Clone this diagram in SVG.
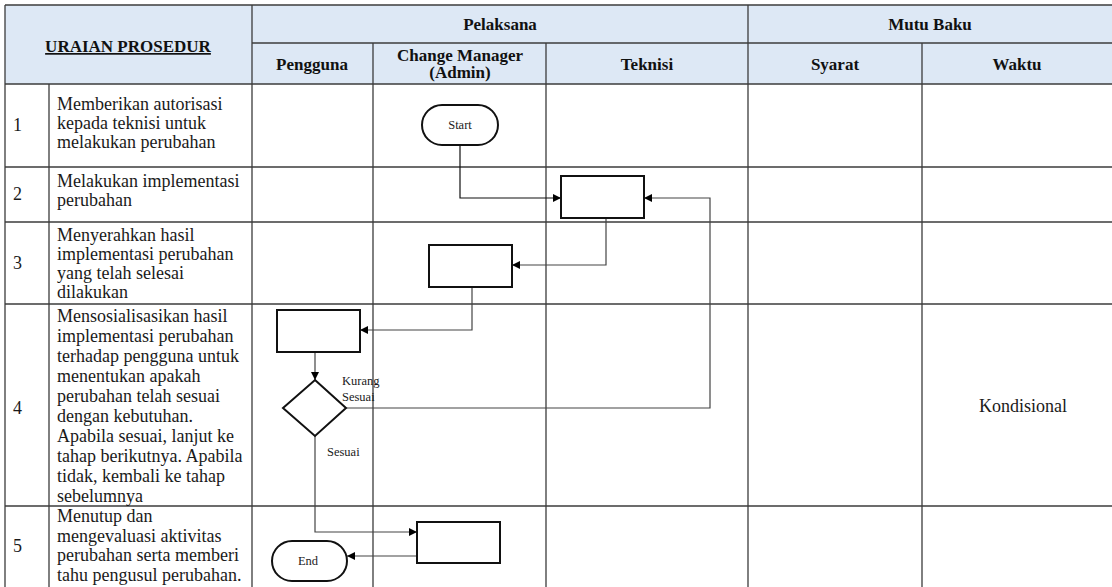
<svg xmlns="http://www.w3.org/2000/svg" width="1112" height="587" viewBox="0 0 1112 587">
  <style>
    .grid { stroke: #3c3c3c; stroke-width: 1.3; fill: none; }
    .hd { font-family: "Liberation Serif", "Times New Roman", serif; font-weight: bold; font-size: 17px; fill: #111; text-anchor: middle; }
    .tx { font-family: "Liberation Serif", "Times New Roman", serif; font-size: 18px; fill: #1a1a1a; }
    .sm { font-family: "Liberation Serif", "Times New Roman", serif; font-size: 12.5px; fill: #1a1a1a; }
    .box { fill: #fff; stroke: #111; stroke-width: 2; }
    .conn { fill: none; stroke: #444; stroke-width: 1.2; }
  </style>
  <defs>
    <marker id="arrow" viewBox="0 0 10 10" refX="10" refY="5" markerWidth="8" markerHeight="8" markerUnits="userSpaceOnUse" orient="auto">
      <path d="M0,0 L10,5 L0,10 Z" fill="#000"/>
    </marker>
  </defs>

  <rect width="1112" height="587" fill="#fff"/>

  <!-- header band -->
  <rect x="5" y="5" width="1107" height="79" fill="#dde8f5"/>

  <!-- table grid -->
  <g id="table">
    <path class="grid" d="M5,5 H1112 M252,43 H1112 M5,84 H1112 M5,167 H1112 M5,222 H1112 M5,304 H1112 M5,506 H1112"/>
    <path class="grid" d="M5,5 V587 M49,84 V587 M252,5 V587 M373,43 V587 M546,43 V587 M748,5 V587 M922,43 V587"/>
  </g>

  <!-- header labels -->
  <g id="header">
    <text class="hd" x="128" y="52" text-decoration="underline">URAIAN PROSEDUR</text>
    <text class="hd" x="500" y="30">Pelaksana</text>
    <text class="hd" x="930" y="30">Mutu Baku</text>
    <text class="hd" x="312" y="70">Pengguna</text>
    <text class="hd" x="460" y="61">Change Manager</text>
    <text class="hd" x="460" y="78">(Admin)</text>
    <text class="hd" x="647" y="70">Teknisi</text>
    <text class="hd" x="835" y="70">Syarat</text>
    <text class="hd" x="1017" y="70">Waktu</text>
  </g>

  <!-- procedure steps -->
  <g id="step1">
    <text class="tx" x="13" y="131">1</text>
    <text class="tx" x="57" y="110">Memberikan autorisasi</text>
    <text class="tx" x="57" y="129">kepada teknisi untuk</text>
    <text class="tx" x="57" y="148">melakukan perubahan</text>
  </g>
  <g id="step2">
    <text class="tx" x="13" y="200">2</text>
    <text class="tx" x="57" y="187">Melakukan implementasi</text>
    <text class="tx" x="57" y="206">perubahan</text>
  </g>
  <g id="step3">
    <text class="tx" x="13" y="269">3</text>
    <text class="tx" x="57" y="241">Menyerahkan hasil</text>
    <text class="tx" x="57" y="260">implementasi perubahan</text>
    <text class="tx" x="57" y="279">yang telah selesai</text>
    <text class="tx" x="57" y="298">dilakukan</text>
  </g>
  <g id="step4">
    <text class="tx" x="13" y="414">4</text>
    <text class="tx" x="57" y="322">Mensosialisasikan hasil</text>
    <text class="tx" x="57" y="342">implementasi perubahan</text>
    <text class="tx" x="57" y="362">terhadap pengguna untuk</text>
    <text class="tx" x="57" y="382">menentukan apakah</text>
    <text class="tx" x="57" y="402">perubahan telah sesuai</text>
    <text class="tx" x="57" y="422">dengan kebutuhan.</text>
    <text class="tx" x="57" y="442">Apabila sesuai, lanjut ke</text>
    <text class="tx" x="57" y="462">tahap berikutnya. Apabila</text>
    <text class="tx" x="57" y="482">tidak, kembali ke tahap</text>
    <text class="tx" x="57" y="502">sebelumnya</text>
    <text class="tx" x="1023" y="412" text-anchor="middle">Kondisional</text>
  </g>
  <g id="step5">
    <text class="tx" x="13" y="552">5</text>
    <text class="tx" x="57" y="522">Menutup dan</text>
    <text class="tx" x="57" y="542">mengevaluasi aktivitas</text>
    <text class="tx" x="57" y="561">perubahan serta memberi</text>
    <text class="tx" x="57" y="581">tahu pengusul perubahan.</text>
  </g>

  <!-- connectors -->
  <g id="connectors">
    <path class="conn" style="stroke:#111" d="M460,145 V198 H561" marker-end="url(#arrow)"/>
    <path class="conn" d="M606,218 V265 H512" marker-end="url(#arrow)"/>
    <path class="conn" d="M472,287 V330 H360" marker-end="url(#arrow)"/>
    <path class="conn" d="M315,352 V380" marker-end="url(#arrow)"/>
    <path class="conn" d="M346,408 H710 V198 H644" marker-end="url(#arrow)"/>
    <path class="conn" d="M315,436 V532 H417" marker-end="url(#arrow)"/>
    <path class="conn" d="M417,556 H347" marker-end="url(#arrow)"/>
    <text class="sm" x="342" y="385">Kurang</text>
    <text class="sm" x="342" y="401">Sesuai</text>
    <text class="sm" x="327" y="456">Sesuai</text>
  </g>

  <!-- flow nodes -->
  <g id="start">
    <rect class="box" x="422" y="105" width="76" height="40" rx="20"/>
    <text class="sm" x="460" y="129" text-anchor="middle">Start</text>
  </g>
  <g id="implement">
    <rect class="box" x="561" y="176" width="83" height="42"/>
  </g>
  <g id="handover">
    <rect class="box" x="429" y="245" width="83" height="42"/>
  </g>
  <g id="socialize">
    <rect class="box" x="277" y="310" width="83" height="42"/>
  </g>
  <g id="decision">
    <polygon class="box" points="315,380 346,408 315,436 283,408"/>
  </g>
  <g id="close">
    <rect class="box" x="417" y="522" width="83" height="41"/>
  </g>
  <g id="end">
    <rect class="box" x="272" y="541" width="75" height="40" rx="20"/>
    <text class="sm" x="308" y="565" text-anchor="middle">End</text>
  </g>
</svg>
